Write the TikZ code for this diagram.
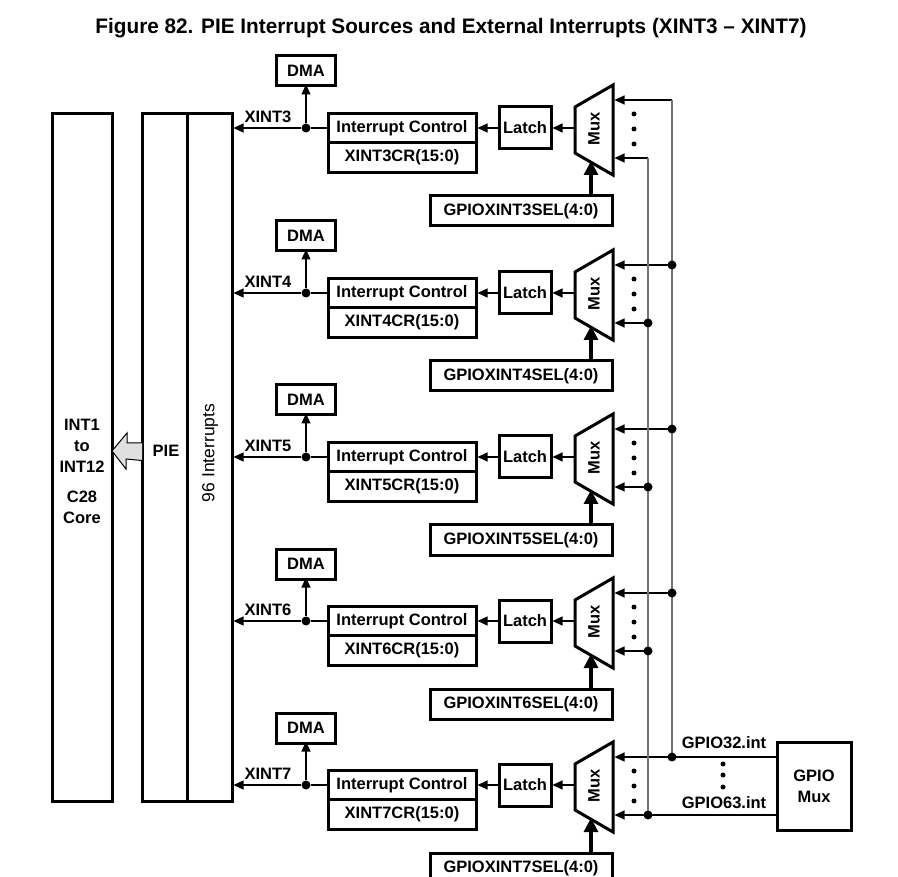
\documentclass[tikz,border=0pt]{standalone}
\usepackage{graphicx}
\usepackage{fontspec}
\setmainfont{Liberation Sans}
\usetikzlibrary{arrows.meta,calc}
\begin{document}
\begin{tikzpicture}[x=1pt,y=-1pt,
  bx/.style={draw, line width=3pt, inner sep=0pt, outer sep=0pt, font=\fontsize{16.5}{16.5}\selectfont\bfseries},
  lbl/.style={inner sep=0pt, font=\fontsize{16.5}{16.5}\selectfont\bfseries},
  conn/.style={line width=1.2pt, -{Triangle[length=10pt,width=9pt]}},
  plain/.style={line width=1.2pt},
  bus/.style={line width=1.2pt, draw=black!55},
  thickarr/.style={line width=3.2pt, -{Triangle[length=14pt,width=14pt]}},
  jdot/.style={circle, fill, inner sep=0pt, minimum size=9pt},
  sdot/.style={circle, fill, inner sep=0pt, minimum size=5pt},
  muxshape/.style={draw, line width=3pt, line join=miter}
]
\useasboundingbox (0,0) rectangle (898,877);
\clip (0,0) rectangle (898,877);

% title
\node[inner sep=0pt] (title) at (451,28) {\resizebox{711pt}{\height}{\fontsize{21}{21}\selectfont\bfseries Figure 82. PIE Interrupt Sources and External Interrupts (XINT3 – XINT7)}};

% core and PIE
\node[bx, minimum width=60pt, minimum height=687pt] (core) at (82,457.5) {};
\node[lbl, align=center, font=\fontsize{16.5}{21}\selectfont\bfseries] (coretxt) at (82,471) {INT1\\to\\INT12\\[9pt]C28\\Core};
\node[bx, minimum width=45pt, minimum height=687pt] (pie) at (164.5,457.5) {};
\node[lbl] (pietxt) at (166,451) {PIE};
\node[bx, minimum width=45pt, minimum height=687pt] (ints) at (209.5,457.5) {};
\node[inner sep=0pt, rotate=90, font=\fontsize{17.5}{17.5}\selectfont] (intstxt) at (210,453) {96 Interrupts};

% hollow arrow PIE -> core
\draw[line width=1pt, fill=black!12, line join=miter]
  ($(pie.west)+(0,-14.5)$) -- ++(-15,0) -- ++(0,-10) -- ($(core.east)+(0,-6.5)$)
  -- ++(14,18) -- ++(0,-10) -- ($(pie.west)+(0,3)$);

\foreach \n/\y in {3/128,4/293,5/457,6/621,7/785}{
  \node[bx, minimum width=59pt, minimum height=30pt] (dma\n) at (306,\y-57) {DMA};
  \node[lbl] (xl\n) at (268,\y-11) {XINT\n};
  \node[jdot] (j\n) at (306,\y) {};
  \node[bx, minimum width=148pt, minimum height=29pt] (ic\n) at (402,\y) {Interrupt Control};
  \node[bx, minimum width=148pt, minimum height=30pt, anchor=north] (cr\n) at (ic\n.south) {XINT\n CR(15:0)};
  \node[bx, minimum width=52pt, minimum height=42pt] (latch\n) at (525,\y) {Latch};
  \draw[muxshape] (575,\y-21) -- (613,\y-43) -- (613,\y+47) -- (575,\y+25) -- cycle;
  \node[lbl, rotate=90] (mux\n) at (594,\y+1) {Mux};
  \coordinate (ml\n) at (573.5,\y);
  \coordinate (mb\n) at (591,\y+33);
  \coordinate (mu\n) at (614.5,\y-28);
  \coordinate (md\n) at (614.5,\y+30);
  \coordinate (bu\n) at (672,\y-28);
  \coordinate (bl\n) at (648,\y+30);
  \node[bx, minimum width=182pt, minimum height=30pt] (sel\n) at (521,\y+83) {GPIOXINT\n SEL(4:0)};
  \draw[conn] (j\n) -- ([xshift=1.5pt]j\n -| ints.east);
  \draw[conn] (j\n) -- ([yshift=1.5pt]dma\n.south);
  \draw[plain] (ic\n.west) -- (j\n);
  \draw[conn] (latch\n.west) -- ([xshift=1.5pt]ic\n.east);
  \draw[conn] (ml\n) -- ([xshift=1.5pt]latch\n.east);
  \draw[thickarr] (sel\n.north -| mb\n) -- (mb\n);
  \draw[conn] (bu\n) -- (mu\n);
  \draw[conn] (bl\n) -- (md\n);
  \node[sdot] (da\n) at (634,\y-14) {};
  \node[sdot] (db\n) at (634,\y+1) {};
  \node[sdot] (dc\n) at (634,\y+16) {};
}

% buses
\draw[bus] (bu3) -- (bu7);
\draw[bus] (bl3) -- (bl7);
\foreach \n in {4,5,6,7}{
  \node[jdot] at (bu\n) {};
  \node[jdot] at (bl\n) {};
}

% GPIO mux
\node[bx, minimum width=74pt, minimum height=88pt, align=center, font=\fontsize{16.5}{21}\selectfont\bfseries] (gpio) at (814,786) {GPIO\\Mux};
\draw[plain] (gpio.west |- bu7) -- (bu7);
\draw[plain] (gpio.west |- bl7) -- (bl7);
\node[lbl] (g32) at (724,743) {GPIO32.int};
\node[lbl] (g63) at (724,803) {GPIO63.int};
\node[sdot] (ga) at (723,764) {};
\node[sdot] (gb) at (723,775) {};
\node[sdot] (gc) at (723,787) {};
\end{tikzpicture}
\end{document}
